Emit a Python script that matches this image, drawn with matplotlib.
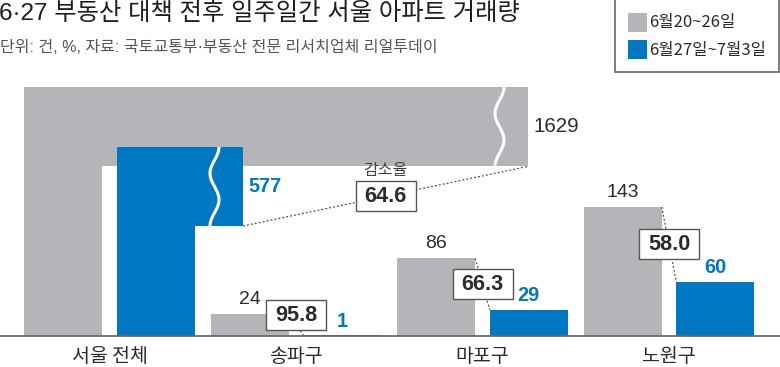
import numpy as np
import matplotlib
matplotlib.use('Agg')
import matplotlib.pyplot as plt
from matplotlib import font_manager
from matplotlib.patches import Polygon, Rectangle

# ---- data -------------------------------------------------------------
districts = ['서울 전체', '송파구', '마포구', '노원구']
before = [1629, 24, 86, 143]        # 6월20~26일
after = [577, 1, 29, 60]            # 6월27일~7월3일
drop_rate = [64.6, 95.8, 66.3, 58.0]
legend_labels = ['6월20~26일', '6월27일~7월3일']
title = '6·27 부동산 대책 전후 일주일간 서울 아파트 거래량'
subtitle = '단위: 건, %, 자료: 국토교통부·부동산 전문 리서치업체 리얼투데이'
rate_caption = '감소율'

GRAY = '#b4b5b8'
BLUE = '#0077c1'
DARK = '#2a2a2a'

plt.rcParams['font.family'] = ['Noto Sans CJK KR', 'DejaVu Sans']
# latin first so digits / middle dot stay narrow, hangul falls through to Noto
MIXED = ['Liberation Sans', 'Noto Sans CJK KR', 'DejaVu Sans']

names = {f.name for f in font_manager.fontManager.ttflist}
if 'Liberation Sans Narrow' in names:
    NUM = ['Liberation Sans Narrow', 'DejaVu Sans']
    k = 1.0
else:
    NUM = ['Liberation Sans', 'DejaVu Sans']
    k = 0.82

# ---- layout (pixel based figure 780x367) ------------------------------
W, H = 780, 367
BASE_PX = 336          # baseline row
PX_PER_UNIT = 0.902    # vertical scale for the districts
GROUP_PX = 186.5
X0_PX = 109.5

fig = plt.figure(figsize=(W / 100, H / 100), dpi=100)
ax = fig.add_axes([0, 0, 1, 1])
ax.set_xlim(-X0_PX / GROUP_PX, (W - X0_PX) / GROUP_PX)
ax.set_ylim(-(H - BASE_PX) / PX_PER_UNIT, BASE_PX / PX_PER_UNIT)
ax.axis('off')

x = np.arange(len(districts))
off, bw = 0.248, 0.418

# districts: ordinary bars
ax.bar(x[1:] - off, before[1:], bw, color=GRAY, zorder=2)
ax.bar(x[1:] + off, after[1:], bw, color=BLUE, zorder=2)

# 서울 전체: broken (folded) bars, display heights after the axis break
g_top, g_band, g_end = 276, 188, 2.244
b_top, b_step, b_end = 209.5, 122, 0.716
gl, gr = x[0] - off - bw / 2, x[0] - off + bw / 2
bl, br = x[0] + off - bw / 2, x[0] + off + bw / 2
ax.add_patch(Polygon([(gl, 0), (gl, g_top), (g_end, g_top), (g_end, g_band),
                      (gr, g_band), (gr, 0)], closed=True, fc=GRAY, ec='none', zorder=2))
ax.add_patch(Polygon([(bl, 0), (bl, b_top), (b_end, b_top), (b_end, b_step),
                      (br, b_step), (br, 0)], closed=True, fc=BLUE, ec='none', zorder=3))

# white wavy break marks
amp = 4.5 / GROUP_PX
for xc, y0, y1 in [((499.5 - X0_PX) / GROUP_PX, g_band, g_top),
                   ((214.5 - X0_PX) / GROUP_PX, b_step, b_top)]:
    t = np.linspace(0, 1, 80)
    ax.plot(xc - amp * np.cos(3 * np.pi * t), y0 + (y1 - y0) * t,
            color='white', lw=2.2, zorder=4, solid_capstyle='butt')

ax.axhline(0, color='#6a6a6a', lw=1.3, zorder=5)

# value labels
ax.annotate(f'{before[0]}', (g_end, (g_top + g_band) / 2), xytext=(4, 0),
            textcoords='offset points', ha='left', va='center',
            fontsize=18 * k, color=DARK, family=NUM)
ax.annotate(f'{after[0]}', (b_end, (b_top + b_step) / 2), xytext=(4, 0),
            textcoords='offset points', ha='left', va='center',
            fontsize=17.5 * k, color=BLUE, weight='bold', family=NUM)
for i in x[1:]:
    ax.annotate(f'{before[i]}', (i - off, before[i]), xytext=(0, 10.5),
                textcoords='offset points', ha='center', va='center',
                fontsize=17 * k, color=DARK, family=NUM)
    ax.annotate(f'{after[i]}', (i + off, after[i]), xytext=(0, 10),
                textcoords='offset points', ha='center', va='center',
                fontsize=17.5 * k, color=BLUE, weight='bold', family=NUM)

# reduction-rate connectors and boxes
box_w, box_h = 60 / GROUP_PX, 30 / PX_PER_UNIT
segs = [((b_end, b_step), (g_end, g_band))]
segs += [((i - off + bw / 2, before[i]), (i + off - bw / 2, after[i])) for i in x[1:]]
for i, ((x1, y1), (x2, y2)) in enumerate(segs):
    ax.plot([x1, x2], [y1, y2], color='#555555', lw=0.9,
            linestyle=(0, (1.6, 1.6)), zorder=4)
    cx, cy = (x1 + x2) / 2, max((y1 + y2) / 2, 23)
    ax.add_patch(Rectangle((cx - box_w / 2, cy - box_h / 2), box_w, box_h,
                           fc='white', ec='#555555', lw=1, zorder=6))
    ax.text(cx, cy, f'{drop_rate[i]:.1f}', ha='center', va='center',
            fontsize=19 * k, weight='bold', color=DARK, family=NUM, zorder=7)
    if i == 0:
        ax.text(cx, cy + box_h / 2 + 2 / PX_PER_UNIT, rate_caption,
                ha='center', va='bottom', fontsize=11.5, color='#444444', zorder=7)

# category labels
for i, name in enumerate(districts):
    ax.text(i, -(357 - BASE_PX) / PX_PER_UNIT, name, ha='center', va='center',
            fontsize=14, color=DARK)

# ---- overlay in pixel coordinates: title, subtitle, legend ------------
ov = fig.add_axes([0, 0, 1, 1])
ov.set_xlim(0, W)
ov.set_ylim(H, 0)
ov.axis('off')
ov.patch.set_alpha(0)

ov.text(-1, 14, title, ha='left', va='center', fontsize=17.5, color='#1e1e1e',
        family=MIXED)
ov.text(0, 48, subtitle, ha='left', va='center', fontsize=11.5, color='#555555',
        family=MIXED)

ov.add_patch(Rectangle((615, -2), 164, 74, fill=False, ec='#666666', lw=1.2))
for j, (lab, col) in enumerate(zip(legend_labels, [GRAY, BLUE])):
    ov.add_patch(Rectangle((628, 13 + 27 * j), 19, 19, fc=col, ec='none'))
    ov.text(649, 22.5 + 27.5 * j, lab, ha='left', va='center', fontsize=12, color=DARK)

fig.savefig('out.png', dpi=100)
